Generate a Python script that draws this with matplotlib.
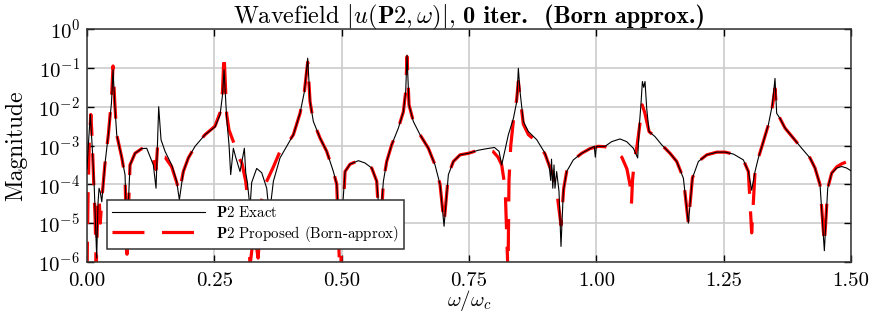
import matplotlib
matplotlib.use("Agg")
import matplotlib.pyplot as plt
import numpy as np
from matplotlib.ticker import FixedLocator, FormatStrFormatter, LogFormatterMathtext, NullLocator

plt.rcParams['font.family'] = 'serif'
plt.rcParams['font.serif'] = ['cmr10']
plt.rcParams['mathtext.fontset'] = 'cm'
plt.rcParams['axes.formatter.use_mathtext'] = True

# frequency axis (omega / omega_c) and log10 |u|
x_exact = [0.000, 0.003, 0.0065, 0.010, 0.014, 0.019, 0.0215, 0.0236, 0.026, 0.029, 0.035, 0.042, 0.048, 0.0511,
           0.0545, 0.0583, 0.0681, 0.0746, 0.0785, 0.0844, 0.0942, 0.1073, 0.1172, 0.1302, 0.1355, 0.1407, 0.1453,
           0.1532, 0.1663, 0.1760, 0.1813, 0.1891, 0.1989, 0.2121, 0.2317, 0.2513, 0.2612, 0.2660, 0.2690,
           0.2742, 0.2788, 0.2821, 0.2873, 0.2919, 0.3004, 0.3089, 0.3116, 0.3148, 0.3200, 0.3233, 0.3331,
           0.3430, 0.3528, 0.3580, 0.3659, 0.3789, 0.3920, 0.4052, 0.4182, 0.4268, 0.4333, 0.4379, 0.4444,
           0.4576, 0.4706, 0.4837, 0.4903, 0.4970, 0.5066, 0.5164, 0.5328, 0.5459, 0.5590, 0.5688, 0.5753,
           0.5819, 0.5884, 0.5982, 0.6113, 0.6211, 0.6257, 0.6283, 0.6322, 0.6407, 0.6538, 0.6702, 0.6833,
           0.6931, 0.7010, 0.7095, 0.7193, 0.7324, 0.7488, 0.7684, 0.7850, 0.8000, 0.8090, 0.8142, 0.8273,
           0.8372, 0.8437, 0.8469, 0.8502, 0.8567, 0.8666, 0.8830, 0.8993, 0.9071, 0.9105, 0.9120, 0.9145,
           0.9169, 0.9188, 0.9221, 0.9267, 0.9306, 0.9352, 0.9417, 0.9548, 0.9712, 0.9875, 0.9960, 0.9980,
           1.0000, 1.0171, 1.0300, 1.0465, 1.0596, 1.0727, 1.0812, 1.0845, 1.0878, 1.0904, 1.0930, 1.0956,
           1.0989, 1.1035, 1.1152, 1.1283, 1.1447, 1.1578, 1.1709, 1.1807, 1.1886, 1.2004, 1.2168, 1.2365,
           1.2528, 1.2692, 1.2887, 1.2985, 1.3050, 1.3116, 1.3181, 1.3279, 1.3377, 1.3456, 1.3508, 1.3541,
           1.3606, 1.3705, 1.3868, 1.4032, 1.4196, 1.4294, 1.4392, 1.4477, 1.4543, 1.4621, 1.4720, 1.4818,
           1.4916, 1.5000]
logmag_exact = [-3.60, -2.90, -2.20, -3.00, -4.00, -5.90, -4.50, -4.10, -4.20, -4.45, -3.50, -2.70, -1.90, -1.05,
                -1.95, -2.72, -3.30, -3.75, -5.30, -3.50, -3.20, -3.08, -3.07, -3.50, -4.10, -2.00, -2.85,
                -3.15, -3.50, -3.92, -4.40, -3.67, -3.32, -3.02, -2.72, -2.52, -2.21, -1.70, -1.05,
                -2.30, -2.98, -3.75, -3.07, -3.30, -3.67, -3.07, -3.70, -3.95, -4.60, -3.95, -3.59,
                -3.70, -4.10, -4.80, -3.92, -3.32, -3.02, -2.72, -2.17, -1.61, -0.75, -1.87, -2.38,
                -2.81, -3.15, -3.67, -4.00, -5.50, -3.67, -3.48, -3.39, -3.45, -3.58, -3.92, -5.00,
                -3.92, -3.41, -2.98, -2.55, -2.13, -1.61, -0.67, -1.95, -2.38, -2.72, -3.07, -3.50,
                -4.00, -5.08, -3.75, -3.41, -3.24, -3.20, -3.12, -3.08, -3.05, -3.15, -3.50, -2.72,
                -2.30, -1.87, -1.01, -1.61, -2.38, -2.64, -2.85, -3.20, -3.50, -3.90, -3.35, -4.10,
                -3.50, -4.10, -3.67, -4.18, -5.60, -4.18, -3.67, -3.37, -3.20, -3.08, -3.02, -3.30,
                -3.02, -3.02, -2.90, -2.83, -2.90, -3.07, -3.32, -2.47, -1.90, -1.35, -1.50, -1.35,
                -2.04, -2.64, -2.77, -2.98, -3.20, -3.41, -3.84, -5.00, -3.84, -3.41, -3.24, -3.17,
                -3.17, -3.22, -3.37, -3.67, -4.15, -3.67, -3.32, -2.90, -2.47, -1.95, -1.27, -2.17,
                -2.30, -2.55, -2.81, -3.07, -3.32, -3.58, -4.01, -5.71, -4.10, -3.71, -3.58, -3.54,
                -3.58, -3.65]

x_born = [0.000, 0.002, 0.0045, 0.0075, 0.010, 0.013, 0.016, 0.018, 0.0215, 0.0236, 0.026, 0.029, 0.035, 0.042,
          0.048, 0.0511, 0.0545, 0.0583, 0.0681, 0.0746, 0.0785, 0.0844, 0.0942, 0.1073, 0.1172, 0.1302,
          0.1355, 0.1385, 0.1420, 0.1532, 0.1663, 0.1760, 0.1813, 0.1891, 0.1989, 0.2121, 0.2317, 0.2513,
          0.2612, 0.2660, 0.2690, 0.2720, 0.2742, 0.2788, 0.2873, 0.2984, 0.3040, 0.3116, 0.3148, 0.3200,
          0.3280, 0.3360, 0.3430, 0.3500, 0.3659, 0.3789, 0.3920, 0.4052, 0.4182, 0.4268, 0.4333, 0.4379,
          0.4444, 0.4576, 0.4706, 0.4837, 0.4903, 0.4968, 0.5066, 0.5164, 0.5328, 0.5459, 0.5590, 0.5688,
          0.5753, 0.5819, 0.5884, 0.5982, 0.6113, 0.6211, 0.6257, 0.6283, 0.6322, 0.6407, 0.6538, 0.6702,
          0.6833, 0.6931, 0.7010, 0.7095, 0.7193, 0.7324, 0.7488, 0.7684, 0.7850, 0.7970, 0.8070, 0.8142,
          0.8210, 0.8266, 0.8285, 0.8320, 0.8372, 0.8437, 0.8469, 0.8502, 0.8567, 0.8666, 0.8830, 0.8993,
          0.9071, 0.9150, 0.9220, 0.9306, 0.9360, 0.9417, 0.9548, 0.9712, 0.9875, 1.0040, 1.0171, 1.0350,
          1.0500, 1.0600, 1.0660, 1.0690, 1.0710, 1.0750, 1.0800, 1.0850, 1.0900, 1.0950, 1.1035, 1.1152,
          1.1283, 1.1447, 1.1578, 1.1709, 1.1807, 1.1886, 1.2004, 1.2168, 1.2365, 1.2528, 1.2692, 1.2887,
          1.2985, 1.3050, 1.3116, 1.3181, 1.3279, 1.3377, 1.3456, 1.3508, 1.3541, 1.3606, 1.3705, 1.3868,
          1.4032, 1.4196, 1.4294, 1.4392, 1.4477, 1.4543, 1.4621, 1.4720, 1.4818, 1.4916, 1.5000]
logmag_born = [-6.30, -4.30, -2.90, -2.20, -2.80, -3.90, -4.90, -6.20, -4.40, -4.30, -5.00, -4.40, -3.50, -2.70,
               -1.80, -0.95, -1.90, -2.72, -3.30, -3.80, -5.80, -3.50, -3.20, -3.08, -3.08, -3.35,
               -3.62, -3.02, -3.30, -3.30, -3.55, -3.95, -4.20, -3.67, -3.32, -3.02, -2.72, -2.50,
               -2.15, -1.60, -0.63, -1.50, -2.20, -2.60, -2.90, -3.32, -3.45, -3.92, -4.30, -6.10,
               -5.20, -5.90, -4.40, -4.00, -3.55, -3.15, -2.98, -2.72, -2.17, -1.61, -0.85, -1.87,
               -2.38, -2.81, -3.15, -3.67, -4.00, -6.50, -3.67, -3.48, -3.39, -3.45, -3.58, -3.92,
               -5.50, -3.92, -3.41, -2.98, -2.55, -2.13, -1.61, -0.71, -1.95, -2.38, -2.72, -3.07,
               -3.50, -4.00, -5.00, -3.75, -3.41, -3.24, -3.20, -3.12, -3.10, -3.15, -3.30, -3.50,
               -4.10, -6.30, -3.90, -3.00, -2.35, -1.80, -1.35, -1.75, -2.45, -2.72, -2.90, -3.22,
               -3.50, -3.75, -4.15, -5.05, -4.10, -3.67, -3.37, -3.20, -3.08, -3.02, -3.03, -3.10,
               -3.30, -3.60, -4.00, -4.50, -3.90, -3.35, -3.00, -2.50, -1.95, -2.15, -2.64, -2.77,
               -2.98, -3.20, -3.41, -3.84, -5.00, -3.84, -3.41, -3.24, -3.17, -3.17, -3.22, -3.37,
               -3.67, -5.25, -3.67, -3.32, -2.90, -2.47, -2.00, -1.53, -2.10, -2.30, -2.55, -2.81,
               -3.07, -3.32, -3.58, -4.01, -5.55, -4.10, -3.71, -3.55, -3.47, -3.42, -3.40]

xticks = [0.0, 0.25, 0.5, 0.75, 1.0, 1.25, 1.5]
yticks = [1e-6, 1e-5, 1e-4, 1e-3, 1e-2, 1e-1, 1e0]

fig = plt.figure(figsize=(8.72, 3.13), dpi=100)
ax = fig.add_axes([0.0998, 0.163, 0.8761, 0.744])

ax.semilogy(x_exact, 10 ** np.array(logmag_exact), color='black', lw=0.8,
            label=r'$\mathbf{P2}$ Exact', zorder=3)
ax.semilogy(x_born, 10 ** np.array(logmag_born), color='red', lw=2.3, dashes=(10, 5.5),
            label=r'$\mathbf{P2}$ Proposed (Born-approx)', zorder=2)

ax.set_xlim(0, 1.5)
ax.set_ylim(1e-6, 1)
ax.xaxis.set_major_locator(FixedLocator(xticks))
ax.xaxis.set_major_formatter(FormatStrFormatter('%.2f'))
ax.yaxis.set_major_locator(FixedLocator(yticks))
ax.yaxis.set_major_formatter(LogFormatterMathtext())
ax.yaxis.set_minor_locator(NullLocator())
ax.grid(True, color='#cccccc', lw=1.2)
ax.set_axisbelow(True)
ax.tick_params(direction='in', length=5, width=1, top=True, right=True, labelsize=15)
ax.tick_params(axis='x', pad=7)
ax.tick_params(axis='y', pad=5)
for s in ax.spines.values():
    s.set_color('#333333')
    s.set_linewidth(1.1)

ax.set_xlabel(r'$\omega/\omega_c$', fontsize=15, labelpad=-1)
ax.set_ylabel('Magnitude', fontsize=17, labelpad=8)

# title: regular part + bold part (cmb10), centred together over the axes
renderer = fig.canvas.get_renderer()
t1 = fig.text(0, 0.925, r'Wavefield $|u(\mathbf{P2},\omega)|$,', fontsize=17.5, va='baseline')
t2 = fig.text(0, 0.925, '0 iter.  (Born approx.)', fontsize=17.5, family='cmb10', va='baseline')
w1 = t1.get_window_extent(renderer).width / fig.bbox.width
w2 = t2.get_window_extent(renderer).width / fig.bbox.width
gap = 7 / fig.bbox.width
x0 = 0.0998 + 0.8761 / 2 - (w1 + gap + w2) / 2
t1.set_x(x0)
t2.set_x(x0 + w1 + gap)

leg = ax.legend(loc='lower left', bbox_to_anchor=(0.026, 0.056), fontsize=10.8, handlelength=6.2,
                handletextpad=0.7, fancybox=False, framealpha=1, edgecolor='#333333',
                borderpad=0.35, labelspacing=0.25, borderaxespad=0)
leg.get_frame().set_linewidth(1.1)
leg.set_zorder(5)

fig.savefig('out.png', dpi=100)
